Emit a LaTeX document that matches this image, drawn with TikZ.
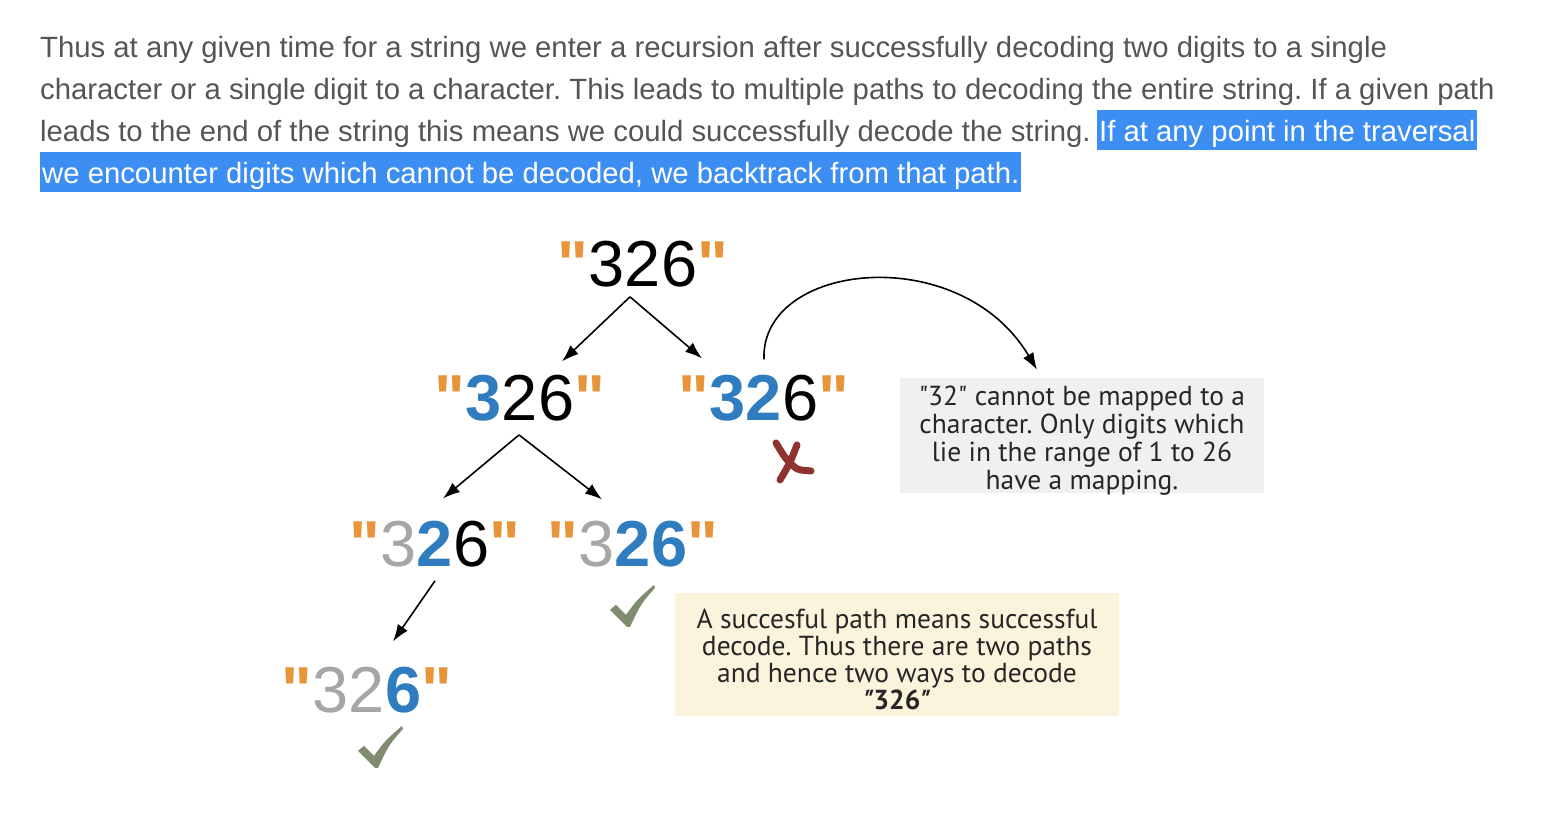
\documentclass[tikz,border=0pt]{standalone}
\usepackage{fontspec}
\setmainfont{Liberation Sans}
\newfontfamily\treefont{Liberation Sans}
\newfontfamily\parafont{Liberation Sans}
\newfontfamily\notefont{PT Sans}
\usetikzlibrary{positioning,arrows.meta}
\definecolor{quoteorange}{HTML}{E8953A}
\definecolor{digitblue}{HTML}{2F7DBF}
\definecolor{digitgray}{HTML}{A6A6A6}
\definecolor{paragray}{HTML}{555555}
\definecolor{selblue}{HTML}{3D8EF2}
\definecolor{notegray}{HTML}{F0F0F0}
\definecolor{noteyellow}{HTML}{FCF3DC}
\definecolor{crossred}{HTML}{8E3330}
\definecolor{tickgreen}{HTML}{7F8C6F}
\newcommand{\qt}{\textcolor{quoteorange}{\textbf{"}}}
\newcommand{\bd}[1]{\textcolor{digitblue}{\textbf{#1}}}
\newcommand{\gd}[1]{\textcolor{digitgray}{#1}}
\tikzset{
    okmark/.pic={\fill[tickgreen] (0,1) -- (-17,-16) -- (-11,-21) -- (-1,-11)
        .. controls (10,-26) .. (27,-41) -- (28,-38) .. controls (14,-22) .. (3,1) -- cycle;},
    failmark/.pic={\draw[crossred, line width=7pt, line cap=round]
        (-14,-20) .. controls (-5,-5) .. (3,3) .. controls (8,7) .. (21,8)
        (7,-18) .. controls (0,0) .. (-10,17);}
}
\frenchspacing
\begin{document}
\begin{tikzpicture}[x=1pt, y=-1pt,
        strnode/.style={inner sep=0pt, anchor=base, font=\treefont\fontsize{65}{70}\selectfont},
        para/.style={anchor=base west, inner sep=0pt, text=paragray, font=\parafont\fontsize{29.3}{34}\selectfont},
        hl/.style={para, fill=selblue, text=white, text height=31pt, text depth=9pt, inner xsep=2pt},
        notebox/.style={inner sep=0pt},
        notetext/.style={align=center, inner sep=0pt, text=black!85, font=\notefont\fontsize{27.5}{28}\selectfont},
        >={Latex[length=17pt,width=12pt]}]
    \fill[white] (0,0) rectangle (1546,822);
    \useasboundingbox (0,0) rectangle (1546,822);

    % paragraph above the picture
    \node [para] at (40, 57)  (l1)  {Thus at any given time for a string we enter a recursion after successfully decoding two digits to a single};
    \node [para] at (40, 99)  (l2)  {character or a single digit to a character. This leads to multiple paths to decoding the entire string. If a given path};
    \node [para] at (40, 141) (l3a) {leads to the end of the string this means we could successfully decode the string.};
    \node [hl, anchor=base west] at ([xshift=6]l3a.base east) (l3b) {If at any point in the traversal};
    \node [hl] at (40, 183) (l4) {we encounter digits which cannot be decoded, we backtrack from that path.};

    % the recursion tree
    \node [strnode] at (643, 286) (root) {\qt326\qt};
    \node [strnode] at (520, 420) (a)    {\qt\bd{3}26\qt};
    \node [strnode] at (764, 420) (b)    {\qt\bd{32}6\qt};
    \node [strnode] at (435, 566) (aa)   {\qt\gd{3}\bd{2}6\qt};
    \node [strnode] at (633, 566) (ab)   {\qt\gd{3}\bd{26}\qt};
    \node [strnode] at (367, 712) (aaa)  {\qt\gd{32}\bd{6}\qt};

    \path[->, line width=1.6pt]
        ([shift={(-13,10)}]root.south) edge ([shift={(42,-13)}]a.north)
        ([shift={(-13,10)}]root.south) edge ([shift={(-62,-16)}]b.north)
        ([shift={(-1,14)}]a.south) edge ([shift={(8,-22)}]aa.north)
        ([shift={(-1,14)}]a.south) edge ([shift={(-31,-21)}]ab.north)
        ([shift={(0,14)}]aa.south) edge ([shift={(26,-25)}]aaa.north);

    % notes
    \node [notebox, fill=notegray, minimum width=364pt, minimum height=115pt] at (1082, 435.5) (why) {};
    \node [notetext] at ([shift={(0,5)}]why.center) (whytext)
        {"32" cannot be mapped to a\\character. Only digits which\\lie in the range of 1 to 26\\have a mapping.};
    \node [notebox, fill=noteyellow, minimum width=444pt, minimum height=123pt] at (897, 654.5) (done) {};
    \node [notetext, font=\notefont\fontsize{27.5}{27}\selectfont] at ([shift={(0,5)}]done.center) (donetext)
        {A succesful path means successful\\decode. Thus there are two paths\\and hence two ways to decode\\\textbf{\textit{"}326\textit{"}}};

    \draw[->, line width=1.6pt] ([shift={(0,-15)}]b.north) .. controls (760,262) and (960,240) .. ([shift={(-45,-8)}]why.north);

    \pic at ([shift={(26,42)}]b.south) {failmark};
    \pic at ([shift={(-6,59)}]ab.south) {okmark};
    \pic at ([shift={(8,54)}]aaa.south) {okmark};
\end{tikzpicture}
\end{document}
